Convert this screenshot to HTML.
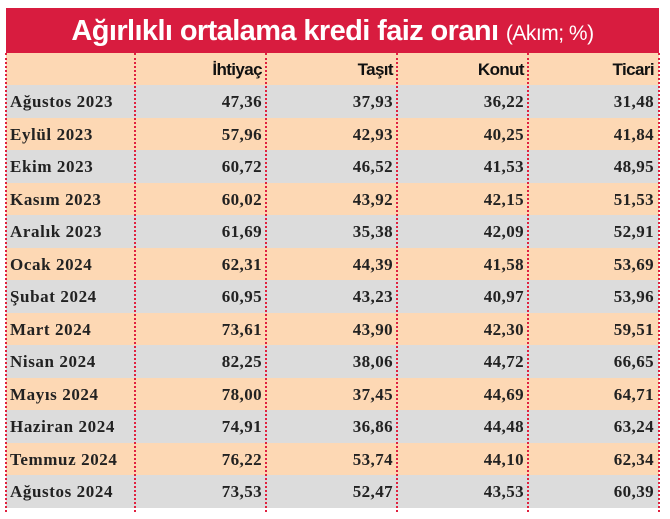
<!DOCTYPE html>
<html><head><meta charset="utf-8"><style>
body{margin:0;width:670px;height:519px;background:#fff;position:relative;overflow:hidden}
.title{position:absolute;left:6px;top:8px;width:653px;height:45px;background:#d81c3f;color:#fff;font-family:"Liberation Sans",sans-serif;font-weight:bold;font-size:29px;line-height:47px;text-align:center;letter-spacing:-0.6px}
.title span{font-weight:normal;font-size:21px;letter-spacing:-0.5px}
.row{position:absolute;left:6px;width:653px;height:32.5px}
.c{position:absolute;top:0;height:100%;line-height:33px;font-family:"Liberation Serif",serif;font-weight:bold;font-size:17px;color:#222;letter-spacing:0.4px}
.c0{left:4px;letter-spacing:0.6px}
.c1{right:397px}.c2{right:266px}.c3{right:135px}.c4{right:5px}
.h .c{font-family:"Liberation Sans",sans-serif;font-size:17px;letter-spacing:-0.6px;color:#111}
.v{position:absolute;top:53px;height:459px;width:0;border-left:2px dotted #e0213f}
</style></head><body>
<div class="title">Ağırlıklı ortalama kredi faiz oranı <span>(Akım; %)</span></div>
<div class="row h" style="top:53px;background:#fdd8b4"><div class="c c1">İhtiyaç</div><div class="c c2">Taşıt</div><div class="c c3">Konut</div><div class="c c4">Ticari</div></div>
<div class="row" style="top:85px;background:#dcdcdc"><div class="c c0">Ağustos 2023</div><div class="c c1">47,36</div><div class="c c2">37,93</div><div class="c c3">36,22</div><div class="c c4">31,48</div></div>
<div class="row" style="top:117.5px;background:#fdd8b4"><div class="c c0">Eylül 2023</div><div class="c c1">57,96</div><div class="c c2">42,93</div><div class="c c3">40,25</div><div class="c c4">41,84</div></div>
<div class="row" style="top:150px;background:#dcdcdc"><div class="c c0">Ekim 2023</div><div class="c c1">60,72</div><div class="c c2">46,52</div><div class="c c3">41,53</div><div class="c c4">48,95</div></div>
<div class="row" style="top:182.5px;background:#fdd8b4"><div class="c c0">Kasım 2023</div><div class="c c1">60,02</div><div class="c c2">43,92</div><div class="c c3">42,15</div><div class="c c4">51,53</div></div>
<div class="row" style="top:215px;background:#dcdcdc"><div class="c c0">Aralık 2023</div><div class="c c1">61,69</div><div class="c c2">35,38</div><div class="c c3">42,09</div><div class="c c4">52,91</div></div>
<div class="row" style="top:247.5px;background:#fdd8b4"><div class="c c0">Ocak 2024</div><div class="c c1">62,31</div><div class="c c2">44,39</div><div class="c c3">41,58</div><div class="c c4">53,69</div></div>
<div class="row" style="top:280px;background:#dcdcdc"><div class="c c0">Şubat 2024</div><div class="c c1">60,95</div><div class="c c2">43,23</div><div class="c c3">40,97</div><div class="c c4">53,96</div></div>
<div class="row" style="top:312.5px;background:#fdd8b4"><div class="c c0">Mart 2024</div><div class="c c1">73,61</div><div class="c c2">43,90</div><div class="c c3">42,30</div><div class="c c4">59,51</div></div>
<div class="row" style="top:345px;background:#dcdcdc"><div class="c c0">Nisan 2024</div><div class="c c1">82,25</div><div class="c c2">38,06</div><div class="c c3">44,72</div><div class="c c4">66,65</div></div>
<div class="row" style="top:377.5px;background:#fdd8b4"><div class="c c0">Mayıs 2024</div><div class="c c1">78,00</div><div class="c c2">37,45</div><div class="c c3">44,69</div><div class="c c4">64,71</div></div>
<div class="row" style="top:410px;background:#dcdcdc"><div class="c c0">Haziran 2024</div><div class="c c1">74,91</div><div class="c c2">36,86</div><div class="c c3">44,48</div><div class="c c4">63,24</div></div>
<div class="row" style="top:442.5px;background:#fdd8b4"><div class="c c0">Temmuz 2024</div><div class="c c1">76,22</div><div class="c c2">53,74</div><div class="c c3">44,10</div><div class="c c4">62,34</div></div>
<div class="row" style="top:475px;background:#dcdcdc"><div class="c c0">Ağustos 2024</div><div class="c c1">73,53</div><div class="c c2">52,47</div><div class="c c3">43,53</div><div class="c c4">60,39</div></div>
<div class="v" style="left:5px"></div>
<div class="v" style="left:134px"></div>
<div class="v" style="left:265px"></div>
<div class="v" style="left:396px"></div>
<div class="v" style="left:527px"></div>
<div class="v" style="left:658px"></div>
</body></html>
